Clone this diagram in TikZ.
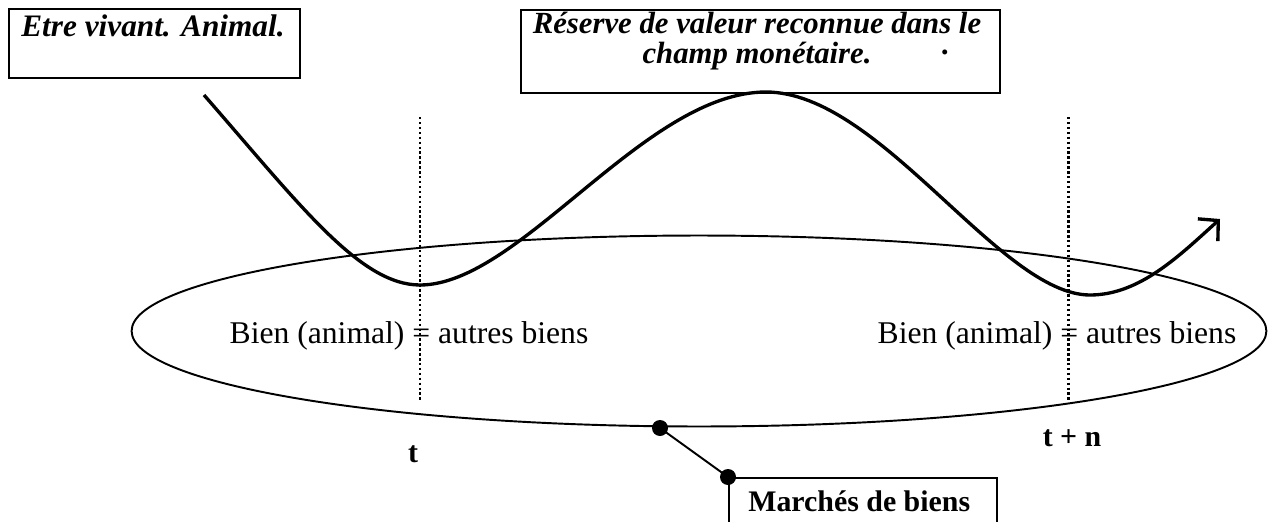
\documentclass[tikz,border=0pt]{standalone}
\usepackage{fontspec}
\setmainfont{Liberation Serif}
\usetikzlibrary{arrows.meta,shapes.geometric}
\begin{document}
\begin{tikzpicture}[x=0.02cm,y=-0.02cm,
  box/.style={draw,line width=1.1pt,inner sep=0pt,anchor=north west},
  bititle/.style={font=\fontsize{17.5}{17}\selectfont\bfseries\itshape,inner sep=0pt,anchor=base},
  body/.style={font=\fontsize{18}{20}\selectfont,inner sep=0pt,anchor=base},
  blabel/.style={font=\fontsize{17}{20}\selectfont\bfseries,inner sep=0pt,anchor=base},
  dotmark/.style={circle,fill=black,inner sep=0pt,minimum size=0.32cm},
  vdots/.style={line width=1.7pt,dash pattern=on 1.4pt off 1.4pt},
  curve/.style={line width=1.9pt}]
\useasboundingbox (0,0) rectangle (1272,521);
% boxes
\node[box,minimum width=5.82cm,minimum height=1.38cm] (b1) at (8,8) {};
\node[bititle,font=\fontsize{17.8}{17}\selectfont\bfseries\itshape] (t1) at (153,36) {Etre vivant. Animal.};
\node[box,minimum width=9.58cm,minimum height=1.66cm] (b2) at (520,9) {};
\node[bititle] (t2a) at (757,33) {Réserve de valeur reconnue dans le};
\node[bititle] (t2b) at (757,63) {champ monétaire.};
\node[bititle,text height=3pt,text depth=0pt] (t2c) at (946,54) {.};
% ellipse
\node[ellipse,draw,line width=1.1pt,minimum width=22.7cm,minimum height=3.82cm,inner sep=0pt] (el) at (699,331) {};
% texts in ellipse
\node[body] (l1) at (409,343) {Bien (animal) = autres biens};
\node[body] (l2) at (1057,343) {Bien (animal) = autres biens};
% dotted lines
\coordinate (v1a) at (420,117); \coordinate (v1b) at (420,402);
\coordinate (v2a) at (1068,117); \coordinate (v2b) at (1068,402);
\draw[vdots] (v1a) -- (v1b);
\draw[vdots] (v2a) -- (v2b);
% time labels
\node[blabel] (tt) at (413,462) {t};
\node[blabel] (ttn) at (1072,446) {t + n};
% main curve
\coordinate (c0) at (204,95);
\coordinate (c1) at (420,285);
\coordinate (c2) at (766,92);
\coordinate (c3) at (1090,295);
\coordinate (c4) at (1220,219);
\draw[curve,-{Straight Barb[length=8pt,width=17pt,line width=1.9pt]}]
  (c0) .. controls (300,205) and (360,285) .. (c1)
       .. controls (520,285) and (645,92) .. (c2)
       .. controls (880,92) and (1000,295) .. (c3)
       .. controls (1140,295) and (1180,255) .. (c4);
% market connector
\node[dotmark] (d1) at (660,428) {};
\node[box,minimum width=5.36cm,minimum height=1.3cm] (b3) at (728,477) {};
\node[dotmark] (d2) at (b3.north west) {};
\draw[line width=1.1pt] (d1.center) -- (d2.center);
\node[blabel,anchor=base west] (t3) at (748,511) {Marchés de biens};
\end{tikzpicture}
\end{document}
